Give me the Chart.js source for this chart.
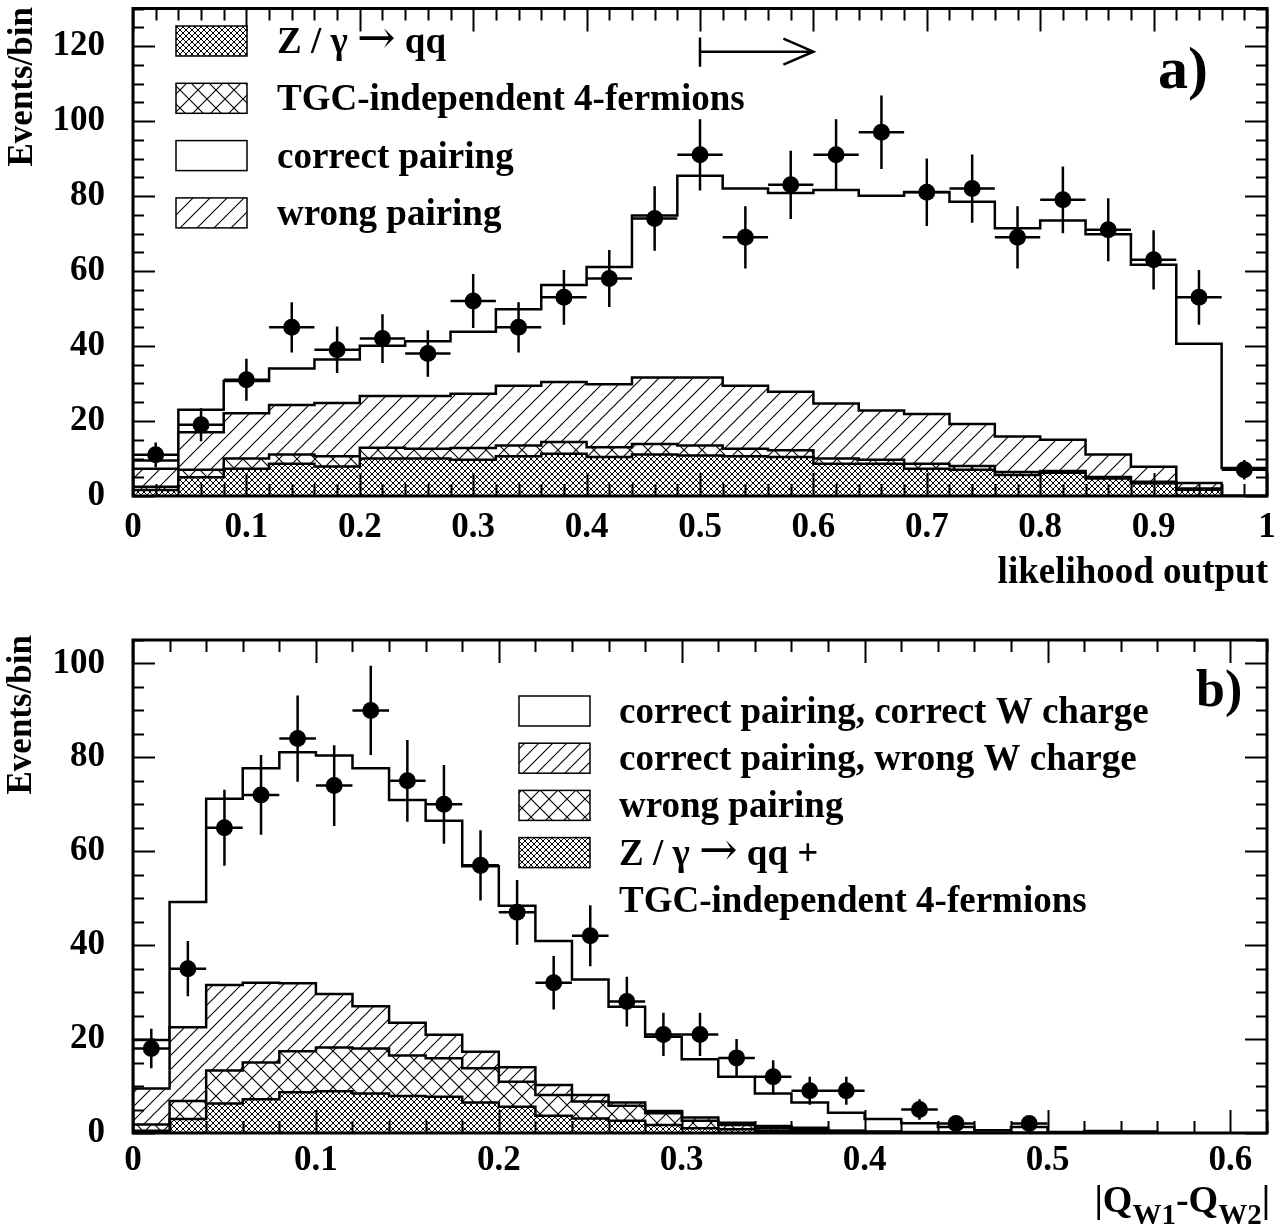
<!DOCTYPE html>
<html>
<head>
<meta charset="utf-8">
<script src="https://cdn.jsdelivr.net/npm/chart.js@4.4.1/dist/chart.umd.min.js"></script>
<style>
    body { margin: 0; background: #fff; }
    #wrap { position: relative; width: 1286px; height: 1232px; }
    #wrap canvas { position: absolute; left: 0; }
</style>
</head>
<body>
<div id="wrap">
    <canvas id="chartA" width="1286" height="610" style="top:0px"></canvas>
    <canvas id="chartB" width="1286" height="622" style="top:610px"></canvas>
</div>
<script>
// ---------- panel a) : likelihood output ----------
const binEdgesA = [0, 0.04, 0.08, 0.12, 0.16, 0.20, 0.24, 0.28, 0.32, 0.36, 0.40, 0.44, 0.48,
    0.52, 0.56, 0.60, 0.64, 0.68, 0.72, 0.76, 0.80, 0.84, 0.88, 0.92, 0.96, 1.00];
const zqqA =     [1.6, 5.0, 7.3, 8.6, 7.9, 10.0, 10.0, 9.7, 10.6, 11.3, 10.4, 11.1, 10.8, 10.6, 10.4, 8.6, 8.6, 7.3, 7.0, 5.6, 6.2, 4.7, 3.4, 1.7, 0];
const tgcA =     [0.9, 2.0, 2.7, 2.5, 2.7, 2.9, 2.6, 3.1, 2.9, 3.1, 2.6, 2.8, 2.7, 2.0, 1.8, 1.4, 1.1, 1.3, 1.0, 0.8, 0.5, 0.4, 0.4, 0.3, 0];
const wrongA =   [4.8, 10.0, 12.1, 13.2, 14.2, 13.8, 14.1, 14.5, 15.9, 16.0, 16.8, 17.7, 18.1, 16.8, 15.6, 14.7, 13.1, 13.3, 11.2, 9.5, 8.3, 6.0, 4.0, 1.5, 0];
const correctA = [2.2, 6.0, 8.6, 9.7, 11.6, 13.4, 14.6, 16.5, 20.4, 25.9, 31.3, 43.2, 53.8, 52.6, 53.0, 56.9, 57.3, 59.2, 59.3, 55.5, 58.5, 58.7, 53.9, 37.1, 7.5];

const dataXA = [0.02, 0.06, 0.10, 0.14, 0.18, 0.22, 0.26, 0.30, 0.34, 0.38, 0.42, 0.46, 0.50,
    0.54, 0.58, 0.62, 0.66, 0.70, 0.74, 0.78, 0.82, 0.86, 0.90, 0.94, 0.98];
const dataYA = [11, 19, 31, 45, 39, 42, 38, 52, 45, 53, 58, 74, 91, 69, 83, 91, 97, 81, 82, 69, 79, 71, 63, 53, 7];
const errYA =  [3.3, 4.4, 5.6, 6.7, 6.2, 6.5, 6.2, 7.2, 6.7, 7.3, 7.6, 8.6, 9.5, 8.3, 9.1, 9.5, 9.8, 9.0, 9.1, 8.3, 8.9, 8.4, 7.9, 7.3, 2.6];

const xTicksA = [0, 0.1, 0.2, 0.3, 0.4, 0.5, 0.6, 0.7, 0.8, 0.9, 1];
const xLabelsA = ['0', '0.1', '0.2', '0.3', '0.4', '0.5', '0.6', '0.7', '0.8', '0.9', '1'];
const yTicksA = [0, 20, 40, 60, 80, 100, 120];
const yLabelsA = ['0', '20', '40', '60', '80', '100', '120'];
const legendA = ['Z / \u03b3 \u2192 qq', 'TGC-independent 4-fermions', 'correct pairing', 'wrong pairing'];
const cutA = [0.5, 0.6];   // cut value and arrow end

// ---------- panel b) : |Q_W1 - Q_W2| ----------
const binEdgesB = [0, 0.02, 0.04, 0.06, 0.08, 0.10, 0.12, 0.14, 0.16, 0.18, 0.20, 0.22, 0.24, 0.26,
    0.28, 0.30, 0.32, 0.34, 0.36, 0.38, 0.40, 0.42, 0.44, 0.46, 0.48, 0.50, 0.52, 0.54, 0.56];
const zqqB =           [0.5, 3.0, 6.3, 7.2, 8.7, 8.9, 8.4, 7.9, 7.7, 6.5, 5.6, 3.7, 3.1, 2.6, 1.7, 1.0, 0.8, 0.5, 0.4, 0.2, 0.1, 0, 0, 0, 0, 0, 0, 0];
const wrongPairB =     [1.3, 3.8, 7.0, 7.8, 8.7, 9.3, 9.6, 8.6, 8.2, 7.3, 5.3, 4.4, 3.6, 3.2, 2.5, 1.6, 0.9, 0.5, 0.4, 0.2, 0.1, 0.1, 0, 0, 0, 0, 0, 0];
const wrongChargeB =   [7.7, 15.7, 18.2, 17.0, 14.5, 11.4, 9.0, 7.0, 5.0, 3.5, 3.1, 2.1, 1.4, 0.7, 0.5, 0.7, 0.5, 0.5, 0.3, 0.1, 0.1, 0.1, 0.1, 0, 0, 0, 0, 0];
const correctChargeB = [10.3, 26.7, 39.7, 45.7, 49.2, 50.8, 50.7, 47.4, 45.6, 39.5, 34.4, 30.7, 24.6, 20.4, 15.8, 12.4, 9.8, 6.9, 5.4, 3.8, 2.7, 1.9, 1.2, 0.6, 1.3, 0.2, 0.4, 0.3];

const dataXB = [0.01, 0.03, 0.05, 0.07, 0.09, 0.11, 0.13, 0.15, 0.17, 0.19, 0.21, 0.23, 0.25, 0.27,
    0.29, 0.31, 0.33, 0.35, 0.37, 0.39, 0.43, 0.45, 0.49];
const dataYB = [18, 35, 65, 72, 84, 74, 90, 75, 70, 57, 47, 32, 42, 28, 21, 21, 16, 12, 9, 9, 5, 2, 2];
const errYB =  [4.2, 5.9, 8.1, 8.5, 9.2, 8.6, 9.5, 8.7, 8.4, 7.5, 6.9, 5.7, 6.5, 5.3, 4.6, 4.6, 4.0, 3.5, 3.0, 3.0, 2.2, 1.4, 1.4];

const xTicksB = [0, 0.1, 0.2, 0.3, 0.4, 0.5, 0.6];
const xLabelsB = ['0', '0.1', '0.2', '0.3', '0.4', '0.5', '0.6'];
const yTicksB = [0, 20, 40, 60, 80, 100];
const yLabelsB = ['0', '20', '40', '60', '80', '100'];
const legendB = ['correct pairing, correct W charge', 'correct pairing, wrong W charge', 'wrong pairing',
    'Z / \u03b3 \u2192 qq +', 'TGC-independent 4-fermions'];

const FONT = '"Liberation Serif", "Times New Roman", Times, serif';

// hatch patterns like the ROOT fill styles
function makePattern(kind, size) {
    const c = document.createElement('canvas');
    const s = size;
    c.width = s; c.height = s;
    const g = c.getContext('2d');
    g.fillStyle = '#fff';
    g.fillRect(0, 0, s, s);
    g.strokeStyle = '#000';
    g.lineWidth = kind === 'dense' ? 1 : 1.1;
    g.beginPath();
    // "/" lines
    g.moveTo(-1, s + 1); g.lineTo(s + 1, -1);
    g.moveTo(-1, 1); g.lineTo(1, -1);
    g.moveTo(s - 1, s + 1); g.lineTo(s + 1, s - 1);
    if (kind === 'cross' || kind === 'dense') {
        // "\" lines
        g.moveTo(-1, -1); g.lineTo(s + 1, s + 1);
        g.moveTo(s - 1, -1); g.lineTo(s + 1, 1);
        g.moveTo(-1, s - 1); g.lineTo(1, s + 1);
    }
    g.stroke();
    return g.createPattern(c, 'repeat');
}

function cumulate(...parts) {
    return parts[0].map((_, i) => parts.reduce((s, p) => s + p[i], 0));
}

// outline of a histogram as a list of corner points
function histPoints(edges, values) {
    const pts = [{ x: edges[0], y: 0 }];
    values.forEach((v, i) => {
        pts.push({ x: edges[i], y: v });
        pts.push({ x: edges[i + 1], y: v });
    });
    pts.push({ x: edges[edges.length - 1], y: 0 });
    return pts;
}

function histDataset(edges, values, fill) {
    return {
        data: histPoints(edges, values),
        backgroundColor: fill,
        borderColor: '#000',
        borderWidth: 2.5,
        borderJoinStyle: 'miter',
        pointRadius: 0,
        pointHoverRadius: 0,
        fill: 'origin'
    };
}

function pointsDataset(xs, ys, errs, half) {
    return {
        data: xs.map((x, i) => ({ x: x, y: ys[i] })),
        errY: errs,
        halfX: half,
        showLine: false,
        fill: false,
        pointRadius: 8.5,
        pointHoverRadius: 8.5,
        pointBackgroundColor: '#000',
        pointBorderWidth: 0,
        isData: true
    };
}

// text where the arrow glyph is taken from a font with a long arrow
function drawRich(ctx, text, x, y, size) {
    const parts = text.split('\u2192');
    parts.forEach((t, i) => {
        ctx.font = 'bold ' + size + 'px ' + FONT;
        ctx.fillText(t, x, y);
        x += ctx.measureText(t).width;
        if (i < parts.length - 1) {
            ctx.font = 'normal ' + Math.round(size * 1.25) + 'px "DejaVu Serif", "DejaVu Sans"';
            ctx.fillText('\u2192', x, y);
            x += ctx.measureText('\u2192').width;
        }
    });
}

// frame, ticks, error bars, legend and texts
function makeDecor(cfg) {
    return {
        id: 'decor',
        afterDatasetsDraw(chart) {
            const ctx = chart.ctx;
            const xs = chart.scales.x, ys = chart.scales.y;
            ctx.save();
            ctx.strokeStyle = '#000';
            ctx.lineWidth = 2.5;
            chart.data.datasets.forEach(ds => {
                if (!ds.isData) return;
                ds.data.forEach((p, i) => {
                    const px = xs.getPixelForValue(p.x);
                    const py = ys.getPixelForValue(p.y);
                    ctx.beginPath();
                    ctx.moveTo(xs.getPixelForValue(p.x - ds.halfX), py);
                    ctx.lineTo(xs.getPixelForValue(p.x + ds.halfX), py);
                    ctx.moveTo(px, ys.getPixelForValue(p.y - ds.errY[i]));
                    ctx.lineTo(px, ys.getPixelForValue(p.y + ds.errY[i]));
                    ctx.stroke();
                });
            });
            ctx.restore();
        },
        afterDraw(chart) {
            const ctx = chart.ctx;
            const a = chart.chartArea;
            const xs = chart.scales.x, ys = chart.scales.y;
            ctx.save();
            ctx.strokeStyle = '#000';
            ctx.fillStyle = '#000';

            // ticks on all four sides
            ctx.lineWidth = 2;
            ctx.beginPath();
            for (let v = 0; v <= xs.max + 1e-9; v += cfg.xMinor) {
                const major = Math.abs(v / cfg.xMajor - Math.round(v / cfg.xMajor)) < 1e-6;
                const len = major ? 23 : 12;
                const px = Math.round(xs.getPixelForValue(v)) + 0.5;
                ctx.moveTo(px, a.bottom); ctx.lineTo(px, a.bottom - len);
                ctx.moveTo(px, a.top); ctx.lineTo(px, a.top + len);
            }
            for (let v = 0; v <= ys.max + 1e-9; v += cfg.yMinor) {
                const major = v % cfg.yMajor === 0;
                const len = major ? 22 : 11;
                const py = Math.round(ys.getPixelForValue(v)) + 0.5;
                ctx.moveTo(a.left, py); ctx.lineTo(a.left + len, py);
                ctx.moveTo(a.right, py); ctx.lineTo(a.right - len, py);
            }
            ctx.stroke();

            // frame
            ctx.lineWidth = 3;
            ctx.strokeRect(a.left, a.top, a.right - a.left, a.bottom - a.top);

            // legend
            ctx.textBaseline = 'alphabetic';
            ctx.textAlign = 'left';
            cfg.legend.forEach((item, i) => {
                const cy = cfg.legendTop + i * cfg.legendStep;
                if (item.fill) {
                    ctx.fillStyle = item.fill;
                    ctx.fillRect(cfg.boxX, cy - 15, 71, 30);
                    ctx.lineWidth = 1.5;
                    ctx.strokeRect(cfg.boxX, cy - 15, 71, 30);
                }
                ctx.fillStyle = '#000';
                drawRich(ctx, item.label, cfg.textX, cy + 12, 37);
            });

            // panel tag
            ctx.font = 'bold ' + cfg.tagSize + 'px ' + FONT;
            ctx.fillText(cfg.tag, cfg.tagX, cfg.tagY);

            // y title, rotated, flush with the top of the frame
            ctx.font = 'bold 35px ' + FONT;
            ctx.save();
            ctx.translate(cfg.yTitleX, cfg.yTitleTop);
            ctx.rotate(-Math.PI / 2);
            ctx.textAlign = 'right';
            ctx.textBaseline = 'middle';
            ctx.fillText('Events/bin', 0, 0);
            ctx.restore();

            // x title
            if (cfg.xTitleParts) {
                const big = 'bold 38px ' + FONT, small = 'bold 29px ' + FONT;
                let w = 0;
                cfg.xTitleParts.forEach(p => { ctx.font = p.sub ? small : big; w += ctx.measureText(p.t).width; });
                let x = cfg.xTitleRight - w;
                ctx.textAlign = 'left';
                cfg.xTitleParts.forEach(p => {
                    ctx.font = p.sub ? small : big;
                    ctx.fillText(p.t, x, cfg.xTitleY + (p.sub ? 12 : 0));
                    x += ctx.measureText(p.t).width;
                });
            } else {
                ctx.font = 'bold 37px ' + FONT;
                ctx.textAlign = 'right';
                ctx.fillText(cfg.xTitle, cfg.xTitleRight, cfg.xTitleY);
            }

            // cut arrow
            if (cfg.arrow) {
                const x0 = xs.getPixelForValue(cfg.arrow[0]);
                const x1 = xs.getPixelForValue(cfg.arrow[1]);
                const yA = ys.getPixelForValue(118.5);
                ctx.lineWidth = 2.5;
                ctx.beginPath();
                ctx.moveTo(x0, ys.getPixelForValue(122.3));
                ctx.lineTo(x0, ys.getPixelForValue(114.5));
                ctx.moveTo(x0, yA);
                ctx.lineTo(x1, yA);
                ctx.moveTo(x1 - 30, yA - 13);
                ctx.lineTo(x1, yA);
                ctx.lineTo(x1 - 30, yA + 13);
                ctx.stroke();
            }
            ctx.restore();
        }
    };
}

function makeChart(canvasId, p) {
    const tickFont = { family: FONT, size: 35, weight: 'bold' };
    return new Chart(document.getElementById(canvasId), {
        type: 'line',
        data: { datasets: p.datasets },
        options: {
            responsive: false,
            animation: false,
            devicePixelRatio: 1,
            events: [],
            layout: { padding: { left: 0, top: p.padTop, right: p.padRight, bottom: 0 } },
            plugins: { legend: { display: false }, tooltip: { enabled: false } },
            elements: { line: { tension: 0 } },
            scales: {
                x: {
                    type: 'linear', min: 0, max: p.xMax,
                    grid: { display: false, drawTicks: false },
                    border: { display: false },
                    afterBuildTicks: s => { s.ticks = p.xTicks.map(v => ({ value: v })); },
                    afterFit: s => { s.height = p.xAxisH; s.paddingLeft = 0; s.paddingRight = 0; },
                    ticks: {
                        padding: p.xPad, maxRotation: 0, autoSkip: false, color: '#000', font: tickFont,
                        callback: (v, i) => p.xLabels[i]
                    }
                },
                y: {
                    type: 'linear', min: 0, max: p.yMax,
                    grid: { display: false, drawTicks: false },
                    border: { display: false },
                    afterBuildTicks: s => { s.ticks = p.yTicks.map(v => ({ value: v })); },
                    afterFit: s => { s.width = 133; s.paddingTop = 0; s.paddingBottom = 0; },
                    ticks: {
                        padding: 28, autoSkip: false, color: '#000', font: tickFont,
                        callback: (v, i) => p.yLabels[i]
                    }
                }
            }
        },
        plugins: [makeDecor(p.decor)]
    });
}

const patDense = makePattern('dense', 6);
const patCrossA = makePattern('cross', 18);
const patDiagA = makePattern('diag', 17);
const patCrossB = makePattern('cross', 18);
const patDiagB = makePattern('diag', 14);

// panel a
makeChart('chartA', {
    padTop: 3, padRight: 19, xAxisH: 610 - 496, xPad: 11,
    xMax: 1, yMax: 130,
    xTicks: xTicksA, xLabels: xLabelsA, yTicks: yTicksA, yLabels: yLabelsA,
    datasets: [
        pointsDataset(dataXA, dataYA, errYA, 0.02),
        histDataset(binEdgesA, zqqA, patDense),
        histDataset(binEdgesA, cumulate(zqqA, tgcA), patCrossA),
        histDataset(binEdgesA, cumulate(zqqA, tgcA, wrongA), patDiagA),
        histDataset(binEdgesA, cumulate(zqqA, tgcA, wrongA, correctA), '#fff')
    ],
    decor: {
        xMinor: 0.02, xMajor: 0.1, yMinor: 5, yMajor: 20,
        legend: [
            { label: legendA[0], fill: patDense },
            { label: legendA[1], fill: patCrossA },
            { label: legendA[2], fill: '#fff' },
            { label: legendA[3], fill: patDiagA }
        ],
        boxX: 176, textX: 277, legendTop: 41, legendStep: 57.3,
        tag: 'a)', tagX: 1158, tagY: 88, tagSize: 60,
        yTitleX: 23, yTitleTop: 7,
        xTitle: 'likelihood output', xTitleRight: 1268, xTitleY: 583,
        arrow: cutA
    }
});

// panel b
makeChart('chartB', {
    padTop: 30, padRight: 19, xAxisH: 622 - 523, xPad: 7,
    xMax: 0.62, yMax: 105,
    xTicks: xTicksB, xLabels: xLabelsB, yTicks: yTicksB, yLabels: yLabelsB,
    datasets: [
        pointsDataset(dataXB, dataYB, errYB, 0.01),
        histDataset(binEdgesB, zqqB, patDense),
        histDataset(binEdgesB, cumulate(zqqB, wrongPairB), patCrossB),
        histDataset(binEdgesB, cumulate(zqqB, wrongPairB, wrongChargeB), patDiagB),
        histDataset(binEdgesB, cumulate(zqqB, wrongPairB, wrongChargeB, correctChargeB), '#fff')
    ],
    decor: {
        xMinor: 0.02, xMajor: 0.1, yMinor: 5, yMajor: 20,
        legend: [
            { label: legendB[0], fill: '#fff' },
            { label: legendB[1], fill: patDiagB },
            { label: legendB[2], fill: patCrossB },
            { label: legendB[3], fill: patDense },
            { label: legendB[4], fill: null }
        ],
        boxX: 519, textX: 619, legendTop: 101, legendStep: 47.2,
        tag: 'b)', tagX: 1196, tagY: 96, tagSize: 52,
        yTitleX: 22, yTitleTop: 25,
        xTitleParts: [{ t: '|Q' }, { t: 'W1', sub: true }, { t: '-Q' }, { t: 'W2', sub: true }, { t: '|' }],
        xTitleRight: 1270, xTitleY: 602
    }
});
</script>
</body>
</html>
